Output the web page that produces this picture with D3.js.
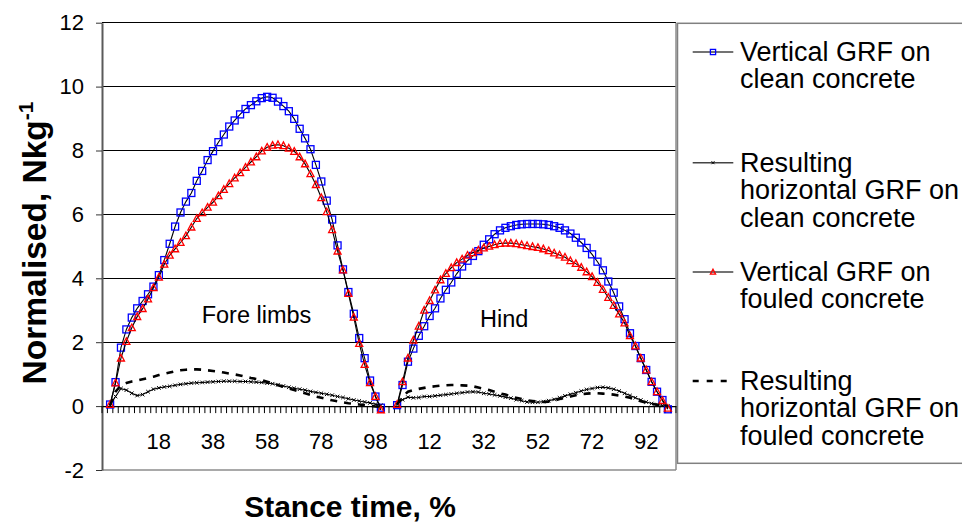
<!DOCTYPE html>
<html><head><meta charset="utf-8">
<script src="https://cdn.jsdelivr.net/npm/d3@7/dist/d3.min.js"></script>
<style>
body{margin:0;background:#fff;}
svg{display:block;font-family:"Liberation Sans",Arial,Helvetica,sans-serif;}
</style>
</head><body>
<svg id="chart" width="962" height="530"></svg>
<script>
// ---- Data (stance time %, sampled every 2%) ----
const stanceTime = [0,2,4,6,8,10,12,14,16,18,20,22,24,26,28,30,32,34,36,38,40,42,44,46,48,50,52,54,56,58,60,62,64,66,68,70,72,74,76,78,80,82,84,86,88,90,92,94,96,98,100];

const foreVerticalClean = [0.05,0.75,1.83,2.4,2.77,3.06,3.29,3.5,3.74,4.1,
  4.57,5.08,5.62,6.06,6.4,6.67,7.05,7.36,7.7,7.98,
  8.26,8.5,8.75,8.94,9.13,9.3,9.42,9.54,9.64,9.68,
  9.65,9.53,9.39,9.23,8.99,8.68,8.38,8.04,7.55,7.03,
  6.43,5.84,5.03,4.28,3.57,2.89,2.13,1.5,0.8,0.3,-0.05];
const foreHorizontalClean = [0.03,0.3,0.55,0.5,0.4,0.33,0.36,0.45,0.53,0.57,
  0.6,0.62,0.65,0.68,0.7,0.72,0.73,0.74,0.75,0.76,
  0.77,0.78,0.78,0.78,0.77,0.77,0.76,0.75,0.74,0.72,
  0.7,0.67,0.63,0.59,0.56,0.53,0.5,0.46,0.43,0.4,
  0.37,0.34,0.3,0.27,0.23,0.19,0.16,0.13,0.1,0.06,0.02];
const foreVerticalFouled = [0.05,0.72,1.5,2.02,2.45,2.8,3.05,3.35,3.7,4.03,
  4.44,4.72,4.92,5.12,5.33,5.6,5.87,6.05,6.22,6.38,
  6.58,6.78,6.96,7.14,7.3,7.47,7.64,7.8,7.98,8.1,
  8.16,8.18,8.15,8.07,7.97,7.8,7.58,7.27,6.93,6.52,
  6.08,5.52,4.85,4.26,3.52,2.78,1.96,1.3,0.73,0.3,-0.12];
const foreHorizontalFouled = [0.03,0.45,0.65,0.72,0.77,0.8,0.84,0.88,0.92,0.97,
  1.01,1.05,1.09,1.12,1.14,1.15,1.15,1.14,1.12,1.1,
  1.08,1.05,1.02,0.99,0.96,0.92,0.88,0.85,0.81,0.76,
  0.71,0.65,0.6,0.55,0.5,0.45,0.4,0.35,0.3,0.26,
  0.22,0.18,0.15,0.12,0.09,0.07,0.05,0.03,0.01,-0.01,-0.03];

const hindVerticalClean = [0.03,0.66,1.39,1.8,2.2,2.5,2.82,3.06,3.37,3.64,
  3.87,4.14,4.37,4.55,4.7,4.85,5.05,5.22,5.38,5.5,
  5.58,5.63,5.67,5.69,5.7,5.7,5.7,5.69,5.67,5.63,
  5.58,5.5,5.4,5.27,5.12,4.95,4.75,4.52,4.25,3.9,
  3.55,3.12,2.72,2.28,1.88,1.5,1.13,0.76,0.45,0.19,-0.1];
const hindHorizontalClean = [0.05,0.2,0.28,0.26,0.27,0.3,0.3,0.32,0.34,0.36,
  0.38,0.4,0.42,0.44,0.45,0.44,0.4,0.38,0.35,0.32,
  0.28,0.25,0.2,0.17,0.13,0.12,0.12,0.14,0.17,0.21,
  0.26,0.32,0.37,0.42,0.47,0.52,0.55,0.58,0.59,0.57,
  0.53,0.47,0.4,0.33,0.26,0.19,0.13,0.08,0.05,0.02,0.0];
const hindVerticalFouled = [0.05,0.76,1.5,2.06,2.5,3.0,3.3,3.63,3.95,4.15,
  4.33,4.49,4.6,4.72,4.8,4.88,4.95,5.0,5.05,5.09,
  5.1,5.1,5.08,5.05,5.02,4.99,4.96,4.92,4.86,4.79,
  4.73,4.66,4.55,4.46,4.34,4.2,4.05,3.87,3.65,3.4,
  3.15,2.88,2.6,2.2,1.88,1.5,1.13,0.76,0.45,0.17,-0.07];
const hindHorizontalFouled = [0.05,0.3,0.45,0.5,0.54,0.57,0.6,0.62,0.64,0.65,
  0.66,0.66,0.65,0.64,0.62,0.58,0.54,0.5,0.45,0.4,
  0.36,0.31,0.26,0.22,0.18,0.16,0.14,0.13,0.14,0.17,
  0.22,0.26,0.3,0.34,0.37,0.39,0.4,0.4,0.39,0.38,
  0.36,0.33,0.3,0.26,0.21,0.15,0.11,0.07,0.04,0.02,0.0];

const yTicks = [-2,0,2,4,6,8,10,12];
const legendLabels = [
  ["Vertical GRF on","clean concrete"],
  ["Resulting","horizontal GRF on","clean concrete"],
  ["Vertical GRF on","fouled concrete"],
  ["Resulting","horizontal GRF on","fouled concrete"]
];
const annotations = [{text:"Fore limbs", slot:18, dx:2.2, v:2.6}, {text:"Hind", slot:70, dx:-1, v:2.47}];
const xTitle = "Stance time, %";
const yTitle = "Normalised, Nkg";

// ---- Category axis: blank, fore 0..100, two blanks, hind 0..100, blank ----
const categories = [""].concat(stanceTime.map(String), ["",""], stanceTime.map(String), [""]);
const combine = (fore, hind) => [null].concat(fore, [null,null], hind, [null]);

const series = [
  {name:"vc", values: combine(foreVerticalClean, hindVerticalClean), marker:"square", color:"#0000ff"},
  {name:"hc", values: combine(foreHorizontalClean, hindHorizontalClean), marker:"cross", color:"#000"},
  {name:"vf", values: combine(foreVerticalFouled, hindVerticalFouled), marker:"triangle", color:"#ff0000"},
  {name:"hf", values: combine(foreHorizontalFouled, hindHorizontalFouled), marker:"none", dashed:true}
];

const svg = d3.select("#chart");
const L = 102, R = 676, T = 22.7, B = 470;
const slots = d3.range(categories.length);
const x = d3.scaleBand().domain(slots).range([L, R]).padding(0);
const cx = i => x(i) + x.bandwidth()/2;
const y = d3.scaleLinear().domain([-2, 12]).range([B, T]);

// Gridlines
svg.append("g").selectAll("line").data(yTicks.filter(v => v > -2)).join("line")
  .attr("x1", L).attr("x2", R).attr("y1", d => y(d)).attr("y2", d => y(d))
  .attr("stroke", "#000").attr("stroke-width", 1).attr("shape-rendering","crispEdges");
// Plot area border (bottom & right)
svg.append("line").attr("x1", L).attr("x2", R).attr("y1", y(-2)).attr("y2", y(-2)).attr("stroke", "#8c8c8c").attr("stroke-width", 1.5);
svg.append("line").attr("x1", R).attr("x2", R).attr("y1", T).attr("y2", B).attr("stroke", "#8c8c8c").attr("stroke-width", 1.5);

// Y axis
const yAxis = svg.append("g").attr("transform", `translate(${L},0)`)
  .call(d3.axisLeft(y).tickValues(yTicks).tickSize(6).tickSizeOuter(0).tickPadding(12).tickFormat(d => String(d)));
yAxis.select(".domain").attr("stroke", "#5a5a5a").attr("stroke-width", 2);
yAxis.selectAll(".tick line").attr("stroke", "#333");
yAxis.selectAll("text").attr("font-size", 22).attr("fill", "#000").attr("font-family", "Liberation Sans, Arial, sans-serif");

// X axis (category) at y = 0
const y0 = y(0);
const xAxis = svg.append("g").attr("transform", `translate(0,${y0})`)
  .call(d3.axisBottom(x).tickValues(slots.filter(i => i % 10 === 0)).tickFormat(i => categories[i]).tickSize(0).tickSizeOuter(0));
xAxis.select(".domain").attr("stroke", "#000").attr("stroke-width", 1.2);
xAxis.selectAll("text").attr("font-size", 22).attr("fill", "#000").attr("dy", null).attr("y", 43)
  .attr("font-family", "Liberation Sans, Arial, sans-serif");
// category boundary tick marks
svg.append("g").selectAll("line").data(slots.concat([categories.length])).join("line")
  .attr("x1", i => i < categories.length ? x(i) : R).attr("x2", i => i < categories.length ? x(i) : R)
  .attr("y1", y0).attr("y2", y0 + 7).attr("stroke", "#000").attr("stroke-width", 1);

// Series
const lineGen = d3.line().defined(d => d != null).x((d, i) => cx(i)).y(d => y(d));
function drawMarker(g, type, color, px, py, s) {
  if (type === "square") {
    g.append("rect").attr("x", px - s/2).attr("y", py - s/2).attr("width", s).attr("height", s)
      .attr("fill", "none").attr("stroke", color).attr("stroke-width", 1.3);
  } else if (type === "triangle") {
    const h = s * 0.9;
    g.append("path").attr("d", `M${px},${py - h*0.6}L${px + s/2},${py + h*0.45}L${px - s/2},${py + h*0.45}Z`)
      .attr("fill", "none").attr("stroke", color).attr("stroke-width", 1.3);
  } else if (type === "cross") {
    const r = s/2;
    g.append("path").attr("d", `M${px-r},${py-r}L${px+r},${py+r}M${px-r},${py+r}L${px+r},${py-r}`)
      .attr("stroke", color).attr("stroke-width", 1);
  }
}
series.forEach(s => {
  const g = svg.append("g");
  g.append("path").datum(s.values).attr("d", lineGen).attr("fill", "none")
    .attr("stroke", "#000").attr("stroke-width", s.dashed ? 2.6 : 1.1)
    .attr("stroke-dasharray", s.dashed ? "7,7" : null);
  if (s.marker !== "none") {
    s.values.forEach((v, i) => {
      if (v == null) return;
      drawMarker(g, s.marker, s.color, cx(i), y(v), s.marker === "cross" ? 3.6 : 7);
    });
  }
});

// Annotations
svg.append("g").selectAll("text").data(annotations).join("text")
  .attr("x", d => x(d.slot) + d.dx).attr("y", d => y(d.v))
  .attr("font-size", 23.5).attr("fill", "#000").text(d => d.text);

// Legend
const lg = svg.append("g");
lg.append("rect").attr("x", 677.5).attr("y", 23.3).attr("width", 300).attr("height", 440)
  .attr("fill", "#fff").attr("stroke", "#808080").attr("stroke-width", 1.5);
const legendTop = [61, 171.7, 281, 390];
legendLabels.forEach((lines, k) => {
  const base = legendTop[k];
  const sy = base - 9;
  const s = series[k];
  lg.append("line").attr("x1", 692.7).attr("x2", 733.3).attr("y1", sy).attr("y2", sy)
    .attr("stroke", s.dashed ? "#000" : "#444").attr("stroke-width", s.dashed ? 2.6 : 1.5)
    .attr("stroke-dasharray", s.dashed ? "6,8" : null);
  if (s.marker !== "none") drawMarker(lg, s.marker, s.color, 713, sy, s.marker === "cross" ? 3 : 5.2);
  const t = lg.append("text").attr("x", 740).attr("y", base).attr("font-size", 27).attr("fill", "#000");
  lines.forEach((ln, j) => t.append("tspan").attr("x", 740).attr("dy", j === 0 ? 0 : 27.4).text(ln));
});

// Axis titles
svg.append("text").attr("x", 350).attr("y", 517).attr("text-anchor", "middle")
  .attr("font-size", 30).attr("font-weight", "bold").text(xTitle);
const yt = svg.append("text").attr("transform", "translate(46,243) rotate(-90)")
  .attr("text-anchor", "middle").attr("font-size", 33.5).attr("font-weight", "bold");
yt.append("tspan").text(yTitle);
yt.append("tspan").attr("dy", -13).attr("font-size", 21).text("-1");
</script>
</body></html>
